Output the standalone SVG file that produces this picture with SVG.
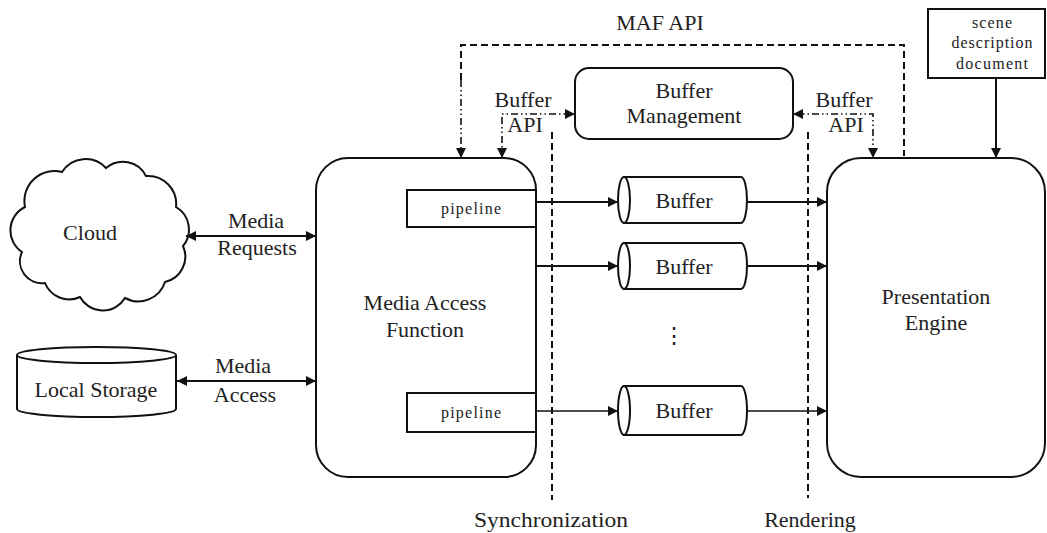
<svg xmlns="http://www.w3.org/2000/svg" width="1047" height="533" viewBox="0 0 1047 533">
<style>
text{font-family:"Liberation Serif","Times New Roman",serif;fill:#222;text-anchor:middle}
.t{font-size:22px}
.s{font-size:16px}
.box{fill:#fff;stroke:#111;stroke-width:2}
.ln{fill:none;stroke:#111;stroke-width:2}
.thin{fill:none;stroke:#111;stroke-width:1.3}
.dash{fill:none;stroke:#111;stroke-width:2;stroke-dasharray:7,4}
.dd{fill:none;stroke:#111;stroke-width:1.6;stroke-dasharray:7,3,1.5,3,1.5,3}
</style>
<defs>
<marker id="ah" viewBox="0 0 10 10" refX="10" refY="5" markerWidth="10" markerHeight="10" markerUnits="userSpaceOnUse" orient="auto-start-reverse">
<path d="M0,0 L10,5 L0,10 Z" fill="#111"/>
</marker>
</defs>
<rect width="1047" height="533" fill="#fff"/>

<g id="cloud">
<path class="box" d="M22,252 A26,26 0 0 1 25,207 A30,30 0 0 1 62,172 A28,28 0 0 1 106,168 A26,26 0 0 1 146,176 A28,28 0 0 1 176,207 A26,26 0 0 1 183,246 A26,26 0 0 1 165,282 A28,28 0 0 1 125,298 A26,26 0 0 1 80,297 A26,26 0 0 1 45,283 A22,22 0 0 1 22,252 Z"/>
<text class="t" x="90" y="240">Cloud</text>
</g>

<g id="local-storage">
<path class="box" d="M17,355 A79.5,8 0 0 1 176,355 L176,409 A79.5,8 0 0 1 17,409 Z"/>
<path class="ln" d="M17,355 A79.5,8 0 0 0 176,355"/>
<text class="t" x="96" y="397">Local Storage</text>
</g>

<g id="maf">
<rect class="box" x="316" y="158" width="220" height="319" rx="32" ry="32"/>
<text class="t" x="425" y="310">Media Access</text>
<text class="t" x="425" y="337">Function</text>
</g>
<g id="pipeline1">
<rect class="box" x="407" y="190" width="129" height="37"/>
<text class="s" x="471" y="214" textLength="60" lengthAdjust="spacing">pipeline</text>
</g>
<g id="pipeline2">
<rect class="box" x="407" y="393" width="129" height="39"/>
<text class="s" x="471" y="418" textLength="60" lengthAdjust="spacing">pipeline</text>
</g>

<g id="buffer-management">
<rect class="box" x="575" y="68" width="218" height="71" rx="14" ry="14"/>
<text class="t" x="684" y="98">Buffer</text>
<text class="t" x="684" y="123">Management</text>
</g>

<g id="buffer1">
<path class="box" d="M624,177 L741,177 A6,23 0 0 1 741,223 L624,223 Z"/>
<ellipse class="box" cx="624" cy="200" rx="6" ry="23"/>
<text class="t" x="684" y="208">Buffer</text>
</g>
<g id="buffer2">
<path class="box" d="M624,243 L741,243 A6,23 0 0 1 741,289 L624,289 Z"/>
<ellipse class="box" cx="624" cy="266" rx="6" ry="23"/>
<text class="t" x="684" y="274">Buffer</text>
</g>
<g id="buffer3">
<path class="box" d="M624,386 L741,386 A6,24.5 0 0 1 741,435 L624,435 Z"/>
<ellipse class="box" cx="624" cy="410.5" rx="6" ry="24.5"/>
<text class="t" x="684" y="418">Buffer</text>
</g>
<text class="t" x="674" y="343">⋮</text>

<g id="presentation-engine">
<rect class="box" x="827" y="158" width="218" height="319" rx="34" ry="34"/>
<text class="t" x="936" y="304">Presentation</text>
<text class="t" x="936" y="330">Engine</text>
</g>

<g id="scene-description">
<rect class="box" x="928" y="9" width="117" height="69"/>
<text class="s" x="992" y="28" textLength="40" lengthAdjust="spacing">scene</text>
<text class="s" x="992" y="48" textLength="81" lengthAdjust="spacing">description</text>
<text class="s" x="992" y="69" textLength="72" lengthAdjust="spacing">document</text>
</g>

<g id="connectors">
<line class="ln" x1="186" y1="236" x2="316" y2="236" marker-start="url(#ah)" marker-end="url(#ah)"/>
<line class="ln" x1="177" y1="381" x2="316" y2="381" marker-start="url(#ah)" marker-end="url(#ah)"/>
<line class="ln" x1="536" y1="202" x2="618" y2="202" marker-end="url(#ah)"/>
<line class="ln" x1="536" y1="266" x2="618" y2="266" marker-end="url(#ah)"/>
<line class="thin" x1="536" y1="411" x2="618" y2="411" marker-end="url(#ah)"/>
<line class="ln" x1="747" y1="202" x2="827" y2="202" marker-end="url(#ah)"/>
<line class="ln" x1="747" y1="266" x2="827" y2="266" marker-end="url(#ah)"/>
<line class="thin" x1="747" y1="411" x2="827" y2="411" marker-end="url(#ah)"/>
<line class="ln" x1="996" y1="78" x2="996" y2="158" marker-end="url(#ah)"/>
<path class="dash" d="M461,80 L461,45 L904,45 L904,156"/>
<path class="dd" d="M461,80 L461,158" marker-end="url(#ah)"/>
<path class="dd" d="M575,114 L502,114 L502,158" marker-start="url(#ah)" marker-end="url(#ah)"/>
<path class="dd" d="M793,114 L873,114 L873,158" marker-start="url(#ah)" marker-end="url(#ah)"/>
<line class="dash" x1="552" y1="132" x2="552" y2="500"/>
<line class="dash" x1="808" y1="132" x2="808" y2="498"/>
</g>

<text class="t" x="660" y="30">MAF API</text>
<text class="t" x="523" y="107">Buffer</text>
<text class="t" x="525" y="132">API</text>
<text class="t" x="844" y="107">Buffer</text>
<text class="t" x="846" y="132">API</text>
<text class="t" x="256" y="228">Media</text>
<text class="t" x="257" y="255">Requests</text>
<text class="t" x="243" y="373">Media</text>
<text class="t" x="245" y="402">Access</text>
<text class="t" x="551" y="527" textLength="154" lengthAdjust="spacingAndGlyphs">Synchronization</text>
<text class="t" x="810" y="527">Rendering</text>
</svg>
